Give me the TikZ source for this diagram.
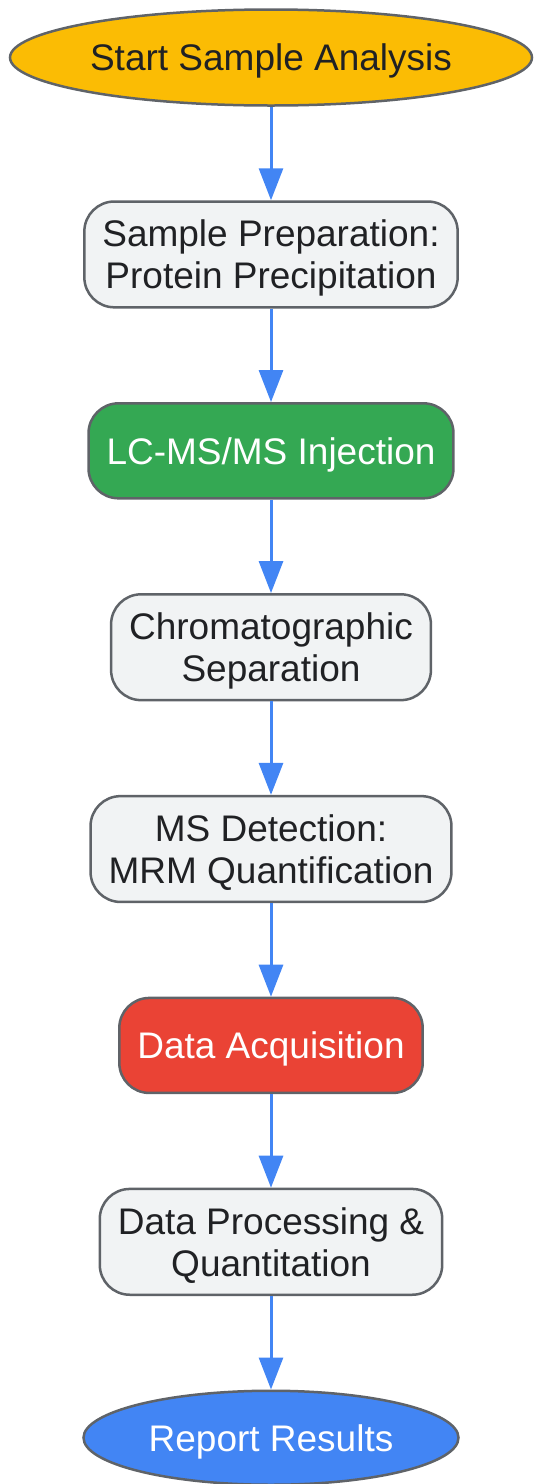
\documentclass[tikz,border=0pt]{standalone}
\usepackage{fontspec}
\setmainfont{Liberation Sans}
\usetikzlibrary{positioning,shapes.geometric,arrows.meta}

\definecolor{startyellow}{HTML}{FBBC04}
\definecolor{injgreen}{HTML}{34A853}
\definecolor{acqred}{HTML}{EA4335}
\definecolor{reportblue}{HTML}{4285F4}
\definecolor{boxgray}{HTML}{F1F3F4}
\definecolor{edgegray}{HTML}{5F6368}
\definecolor{darktext}{HTML}{202124}

\begin{document}
\begin{tikzpicture}[x=1pt, y=-1pt, align=center, node distance=93.5pt,
  every node/.style={font=\fontsize{37}{42}\selectfont, text=darktext, text depth=0pt},
  terminal/.style={ellipse, draw=edgegray, line width=2.5pt, inner sep=0pt},
  stepbox/.style={rectangle, rounded corners=30pt, draw=edgegray, line width=2.5pt,
    fill=boxgray, inner xsep=18pt, inner ysep=18.5pt, minimum height=95pt},
  flow/.style={draw=reportblue, line width=3pt, -{Triangle[width=24pt,length=32pt]}}]

  \useasboundingbox (0,0) rectangle (534,1484);

  \node[terminal, fill=startyellow, minimum width=522pt, minimum height=96pt]
    (start) at (271,57.5) {Start Sample Analysis};
  \node[stepbox, below=of start] (prep) {Sample Preparation:\\Protein Precipitation};
  \node[stepbox, below=of prep, fill=injgreen, text=white] (inject) {LC-MS/MS Injection};
  \node[stepbox, below=of inject] (chrom) {Chromatographic\\Separation};
  \node[stepbox, below=of chrom] (detect) {MS Detection:\\MRM Quantification};
  \node[stepbox, below=of detect, fill=acqred, text=white] (acquire) {Data Acquisition};
  \node[stepbox, below=of acquire] (process) {Data Processing \&\\Quantitation};
  \node[terminal, below=of process, fill=reportblue, text=white,
    minimum width=375pt, minimum height=94pt] (report) {Report Results};

  % connectors
  \draw[flow] (start) -- (prep);
  \draw[flow] (prep) -- (inject);
  \draw[flow] (inject) -- (chrom);
  \draw[flow] (chrom) -- (detect);
  \draw[flow] (detect) -- (acquire);
  \draw[flow] (acquire) -- (process);
  \draw[flow] (process) -- (report);
\end{tikzpicture}
\end{document}
